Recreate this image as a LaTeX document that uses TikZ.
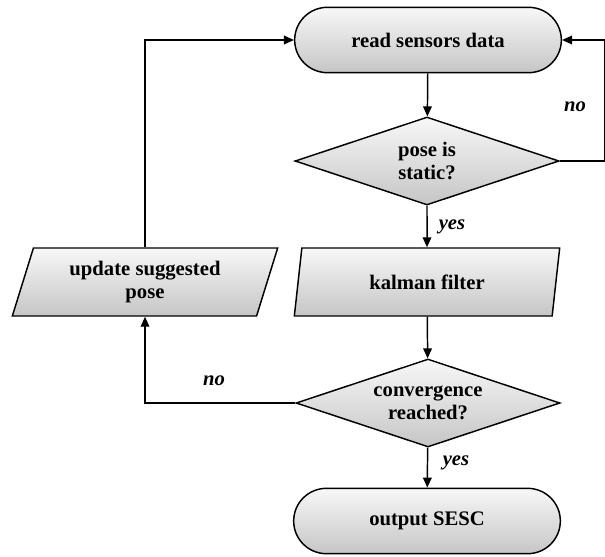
\documentclass[tikz,border=0pt]{standalone}
\usepackage{fontspec}
\setmainfont{Liberation Serif}
\usetikzlibrary{shapes.geometric,shapes.misc,arrows.meta}

\begin{document}
\begin{tikzpicture}[x=0.75pt, y=-0.75pt,
  block/.style={draw, line width=1.1pt, top color=gray!6, bottom color=gray!45,
    font=\bfseries\fontsize{15.5}{17}\selectfont, align=center, inner sep=0pt},
  terminal/.style={block, rounded rectangle, minimum width=200pt, minimum height=49pt},
  decision/.style={block, diamond, aspect=3, minimum width=198pt, minimum height=66pt},
  io/.style={block, trapezium, trapezium left angle=63, trapezium right angle=117,
    trapezium stretches body, minimum width=199pt, minimum height=51pt},
  flow/.style={-{Triangle[length=7.5pt, width=6.5pt]}, line width=1.1pt},
  lbl/.style={font=\bfseries\itshape\fontsize{15.5}{17}\selectfont}]

  \useasboundingbox (0,0) rectangle (605,556);

  \node[terminal] (read)    at (428,40)  {read sensors data};
  \node[decision] (static)  at (427,161) {pose is\\static?};
  \node[io]       (kalman)  at (427,282) {kalman filter};
  \node[io]       (update)  at (145,282) {update suggested\\pose};
  \node[decision] (conv)    at (428,403) {convergence\\reached?};
  \node[terminal] (output)  at (427,521) {output SESC};

  \draw[flow] (read) -- (static);
  \draw[flow] (static.east) -- ++(45,0) |- (read.east);
  \draw[flow] (static) -- (kalman);
  \draw[flow] (kalman) -- (conv);
  \draw[flow] (conv) -- (output);
  \draw[flow] (conv.west) -| (update.south);
  \draw[flow] (update.north) |- (read.west);

  \node[lbl] (no1)  at (575,107) {no};
  \node[lbl] (yes1) at (452,227) {yes};
  \node[lbl] (no2)  at (214,381) {no};
  \node[lbl] (yes2) at (456,463) {yes};

\end{tikzpicture}
\end{document}
